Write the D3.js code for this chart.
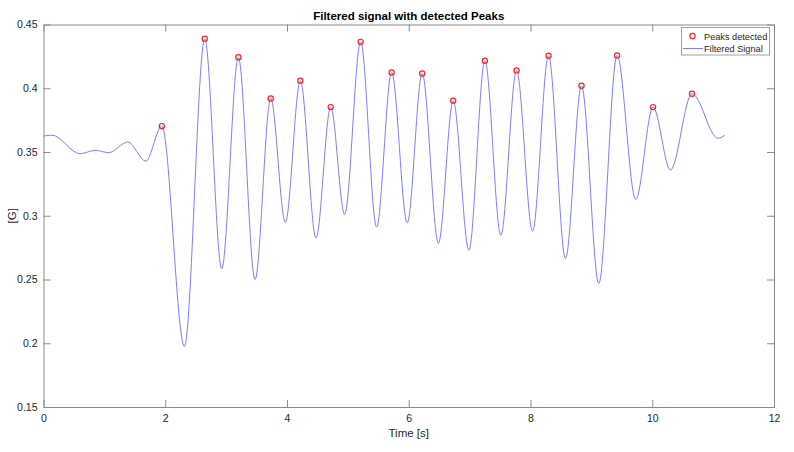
<!DOCTYPE html>
<html>
<head>
<meta charset="utf-8">
<script src="https://cdn.jsdelivr.net/npm/d3@7"></script>
<style>
  body { margin: 0; background: #fff; }
  svg { display: block; font-family: "Liberation Sans", Arial, sans-serif; }
</style>
</head>
<body>
<svg id="chart" width="794" height="452"></svg>
<script>
// Filtered signal at its turning points.
const signalTime = [0, 0.14, 0.60, 0.85, 1.07, 1.385, 1.68, 1.944, 2.315, 2.649, 2.928, 3.201, 3.475,
  3.733, 3.973, 4.219, 4.477, 4.718, 4.947, 5.210, 5.472, 5.719, 5.975, 6.221, 6.487, 6.730, 6.988,
  7.251, 7.513, 7.771, 8.034, 8.296, 8.575, 8.838, 9.122, 9.422, 9.729, 10.013, 10.299, 10.653,
  11.08, 11.19];
const signalValue = [0.3625, 0.3632, 0.3487, 0.3513, 0.3495, 0.3578, 0.3429, 0.3703, 0.1975, 0.4388,
  0.2586, 0.4243, 0.2500, 0.3920, 0.2949, 0.4059, 0.2826, 0.3852, 0.3012, 0.4364, 0.2912, 0.4124,
  0.2944, 0.4116, 0.2785, 0.3902, 0.2730, 0.4216, 0.2847, 0.4140, 0.2879, 0.4255, 0.2665, 0.4020,
  0.2469, 0.4257, 0.3127, 0.3852, 0.3359, 0.3957, 0.3608, 0.3631];

// Detected peaks.
const peakTime = [1.944, 2.649, 3.201, 3.733, 4.219, 4.718, 5.210, 5.719, 6.221, 6.730, 7.251,
  7.771, 8.296, 8.838, 9.422, 10.013, 10.653];
const peakValue = [0.3703, 0.4388, 0.4243, 0.3920, 0.4059, 0.3852, 0.4364, 0.4124, 0.4116, 0.3902,
  0.4216, 0.4140, 0.4255, 0.4020, 0.4257, 0.3852, 0.3957];

// Axis ticks.
const xTicks = [0, 2, 4, 6, 8, 10, 12];
const yTicks = [0.15, 0.2, 0.25, 0.3, 0.35, 0.4, 0.45];

const margin = {left: 43.5, right: 20, top: 24.5, bottom: 45};
const width = 794, height = 452;
const axisColor = "#8a8a8a", textColor = "#262626";

const svg = d3.select("#chart");

const x = d3.scaleLinear().domain([0, 12]).range([margin.left, width - margin.right]);
const y = d3.scaleLinear().domain([0.15, 0.45]).range([height - margin.bottom, margin.top]);

// Axes with inward ticks on all four sides (MATLAB box style).
const tick = 7;
const gx = svg.append("g")
  .attr("transform", "translate(0," + y(0.15) + ")")
  .call(d3.axisBottom(x).tickValues(xTicks).tickFormat(d3.format("d"))
    .tickSizeInner(-tick).tickSizeOuter(0).tickPadding(7.5));
const gy = svg.append("g")
  .attr("transform", "translate(" + x(0) + ",0)")
  .call(d3.axisLeft(y).tickValues(yTicks).tickFormat(d => String(+d.toFixed(2)))
    .tickSizeInner(-tick).tickSizeOuter(0).tickPadding(6));
const gt = svg.append("g")
  .attr("transform", "translate(0," + y(0.45) + ")")
  .call(d3.axisTop(x).tickValues(xTicks).tickFormat("").tickSizeInner(-tick).tickSizeOuter(0));
const gr = svg.append("g")
  .attr("transform", "translate(" + x(12) + ",0)")
  .call(d3.axisRight(y).tickValues(yTicks).tickFormat("").tickSizeInner(-tick).tickSizeOuter(0));

[gx, gy, gt, gr].forEach(g => {
  g.selectAll("path, line").attr("stroke", axisColor);
  g.selectAll("text").attr("fill", textColor).attr("font-size", 10.5)
    .attr("font-family", "Liberation Sans, Arial, sans-serif");
});

// Signal line.
const line = d3.line()
  .x((d, i) => x(signalTime[i]))
  .y(d => y(d))
  .curve(d3.curveMonotoneX);

svg.append("path")
  .datum(signalValue)
  .attr("fill", "none")
  .attr("stroke", "#7d7dff")
  .attr("stroke-width", 1)
  .attr("d", line);

// Peak markers.
svg.append("g").selectAll("circle")
  .data(peakValue)
  .join("circle")
  .attr("cx", (d, i) => x(peakTime[i]))
  .attr("cy", d => y(d))
  .attr("r", 2.6)
  .attr("fill", "none")
  .attr("stroke", "#ff2020")
  .attr("stroke-width", 1.2);

// Title and axis labels.
const midX = (x(0) + x(12)) / 2;
svg.append("text")
  .attr("x", midX).attr("y", 19.5)
  .attr("text-anchor", "middle")
  .attr("font-weight", "bold").attr("font-size", 11.5)
  .attr("fill", "#000")
  .text("Filtered signal with detected Peaks");

svg.append("text")
  .attr("x", midX).attr("y", 437)
  .attr("text-anchor", "middle")
  .attr("font-size", 11.5).attr("fill", textColor)
  .text("Time [s]");

svg.append("text")
  .attr("transform", "translate(15.5," + ((y(0.15) + y(0.45)) / 2) + ") rotate(-90)")
  .attr("text-anchor", "middle")
  .attr("font-size", 11.5).attr("fill", textColor)
  .text("[G]");

// Legend.
const legend = svg.append("g").attr("transform", "translate(681.5,27.5)");
legend.append("rect")
  .attr("width", 88).attr("height", 27.5)
  .attr("fill", "#fff").attr("stroke", "#a0a0a0").attr("stroke-width", 1);
legend.append("circle")
  .attr("cx", 11).attr("cy", 8.5).attr("r", 2.6)
  .attr("fill", "none").attr("stroke", "#ff2020").attr("stroke-width", 1.2);
legend.append("line")
  .attr("x1", 1.5).attr("x2", 21.5).attr("y1", 21).attr("y2", 21)
  .attr("stroke", "#7d7dff").attr("stroke-width", 1);
legend.append("text")
  .attr("x", 22.5).attr("y", 12)
  .attr("font-size", 9.2).attr("fill", textColor)
  .text("Peaks detected");
legend.append("text")
  .attr("x", 22.5).attr("y", 24.5)
  .attr("font-size", 9.2).attr("fill", textColor)
  .text("Filtered Signal");
</script>
</body>
</html>
